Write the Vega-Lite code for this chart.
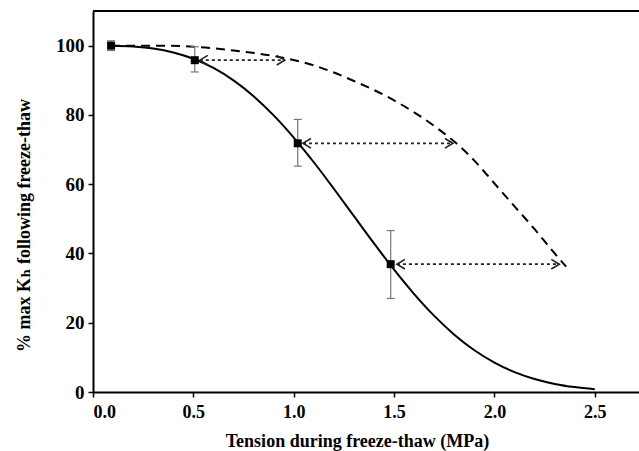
{
  "$schema": "https://vega.github.io/schema/vega-lite/v6.json",
  "autosize": {"type": "none"},
  "padding": {"left": 93, "top": 11, "right": 0, "bottom": 59},
  "width": 546,
  "height": 381,
  "background": "white",
  "config": {
    "view": {"stroke": null},
    "font": "Liberation Serif, Times New Roman, DejaVu Serif, serif",
    "axis": {
      "labelFont": "Liberation Serif, Times New Roman, DejaVu Serif, serif",
      "titleFont": "Liberation Serif, Times New Roman, DejaVu Serif, serif",
      "labelFontWeight": "bold",
      "titleFontWeight": "bold",
      "labelColor": "black",
      "titleColor": "black",
      "domainColor": "black",
      "tickColor": "black",
      "domainWidth": 2,
      "tickWidth": 1.5,
      "tickSize": 5,
      "grid": false
    }
  },
  "datasets": {
    "points": [
      {"x": 0.09, "y": 100.0, "lo": 98.6, "hi": 101.4},
      {"x": 0.507, "y": 95.8, "lo": 92.4, "hi": 99.7},
      {"x": 1.02, "y": 71.8, "lo": 65.2, "hi": 78.7},
      {"x": 1.483, "y": 36.9, "lo": 27.0, "hi": 46.6}
    ],
    "fit": [
      {"x": 0.09, "y": 99.98}, {"x": 0.2, "y": 99.75}, {"x": 0.3, "y": 99.17},
      {"x": 0.4, "y": 98.04}, {"x": 0.5, "y": 96.22}, {"x": 0.6, "y": 93.55},
      {"x": 0.7, "y": 89.96}, {"x": 0.8, "y": 85.39}, {"x": 0.9, "y": 79.86},
      {"x": 1.0, "y": 73.46}, {"x": 1.1, "y": 66.33}, {"x": 1.2, "y": 58.68},
      {"x": 1.3, "y": 50.78}, {"x": 1.4, "y": 42.9}, {"x": 1.5, "y": 35.31},
      {"x": 1.6, "y": 28.27}, {"x": 1.7, "y": 21.97}, {"x": 1.8, "y": 16.55},
      {"x": 1.9, "y": 12.05}, {"x": 2.0, "y": 8.48}, {"x": 2.1, "y": 5.74},
      {"x": 2.2, "y": 3.75}, {"x": 2.3, "y": 2.34}, {"x": 2.4, "y": 1.41},
      {"x": 2.5, "y": 0.81}
    ],
    "dashed": [
      {"x": 0.09, "y": 100.0}, {"x": 0.3, "y": 100.0}, {"x": 0.5, "y": 99.7},
      {"x": 0.7, "y": 98.6}, {"x": 0.9, "y": 97.0}, {"x": 1.1, "y": 94.3},
      {"x": 1.3, "y": 89.8}, {"x": 1.5, "y": 84.2}, {"x": 1.7, "y": 76.8},
      {"x": 1.8, "y": 72.3}, {"x": 1.9, "y": 66.8}, {"x": 2.0, "y": 60.2},
      {"x": 2.1, "y": 53.6}, {"x": 2.2, "y": 47.0}, {"x": 2.3, "y": 40.0},
      {"x": 2.357, "y": 36.2}
    ],
    "arrows": [
      {"y": 95.8, "x1": 0.532, "x2": 0.955},
      {"y": 71.8, "x1": 1.046, "x2": 1.793},
      {"y": 36.9, "x1": 1.514, "x2": 2.323}
    ],
    "frame": [{"top": 110}]
  },
  "layer": [
    {
      "data": {"name": "frame"},
      "mark": {"type": "rule", "color": "black", "strokeWidth": 2},
      "encoding": {
        "y": {"field": "top", "type": "quantitative", "scale": {"domain": [0, 110]}}
      }
    },
    {
      "data": {"name": "dashed"},
      "mark": {"type": "line", "color": "black", "strokeWidth": 2, "strokeDash": [9, 6], "interpolate": "monotone"},
      "encoding": {
        "x": {"field": "x", "type": "quantitative", "scale": {"domain": [0, 2.72], "nice": false},
          "axis": {"values": [0, 0.5, 1, 1.5, 2, 2.5], "format": ".1f", "labelFontSize": 18, "titleFontSize": 18, "title": "Tension during freeze-thaw (MPa)", "labelPadding": 6, "titlePadding": 11, "titleX": 264}},
        "y": {"field": "y", "type": "quantitative", "scale": {"domain": [0, 110], "nice": false},
          "axis": {"values": [0, 20, 40, 60, 80, 100], "labelFontSize": 19, "titleFontSize": 18, "title": "% max Kₕ following freeze-thaw", "labelPadding": 4, "titlePadding": 22, "titleY": 214}}
      }
    },
    {
      "data": {"name": "fit"},
      "mark": {"type": "line", "color": "black", "strokeWidth": 2, "interpolate": "monotone"},
      "encoding": {
        "x": {"field": "x", "type": "quantitative"},
        "y": {"field": "y", "type": "quantitative"}
      }
    },
    {
      "data": {"name": "arrows"},
      "mark": {"type": "rule", "color": "#222222", "strokeWidth": 1.8, "strokeDash": [3, 3]},
      "encoding": {
        "x": {"field": "x1", "type": "quantitative"},
        "x2": {"field": "x2"},
        "y": {"field": "y", "type": "quantitative"}
      }
    },
    {
      "data": {"name": "arrows"},
      "mark": {"type": "point", "shape": "M2,-1.2L0,0L2,1.2", "filled": false, "size": 64, "color": "#222222", "strokeWidth": 1.6, "opacity": 1},
      "encoding": {
        "x": {"field": "x1", "type": "quantitative"},
        "y": {"field": "y", "type": "quantitative"}
      }
    },
    {
      "data": {"name": "arrows"},
      "mark": {"type": "point", "shape": "M-2,-1.2L0,0L-2,1.2", "filled": false, "size": 64, "color": "#222222", "strokeWidth": 1.6, "opacity": 1},
      "encoding": {
        "x": {"field": "x2", "type": "quantitative"},
        "y": {"field": "y", "type": "quantitative"}
      }
    },
    {
      "data": {"name": "points"},
      "mark": {"type": "rule", "color": "#777777", "strokeWidth": 1.2},
      "encoding": {
        "x": {"field": "x", "type": "quantitative"},
        "y": {"field": "lo", "type": "quantitative"},
        "y2": {"field": "hi"}
      }
    },
    {
      "data": {"name": "points"},
      "mark": {"type": "tick", "orient": "horizontal", "color": "#777777", "thickness": 1.2, "size": 8, "opacity": 1},
      "encoding": {
        "x": {"field": "x", "type": "quantitative"},
        "y": {"field": "lo", "type": "quantitative"}
      }
    },
    {
      "data": {"name": "points"},
      "mark": {"type": "tick", "orient": "horizontal", "color": "#777777", "thickness": 1.2, "size": 8, "opacity": 1},
      "encoding": {
        "x": {"field": "x", "type": "quantitative"},
        "y": {"field": "hi", "type": "quantitative"}
      }
    },
    {
      "data": {"name": "points"},
      "mark": {"type": "point", "shape": "square", "filled": true, "size": 64, "color": "black", "opacity": 1},
      "encoding": {
        "x": {"field": "x", "type": "quantitative"},
        "y": {"field": "y", "type": "quantitative"}
      }
    }
  ]
}
